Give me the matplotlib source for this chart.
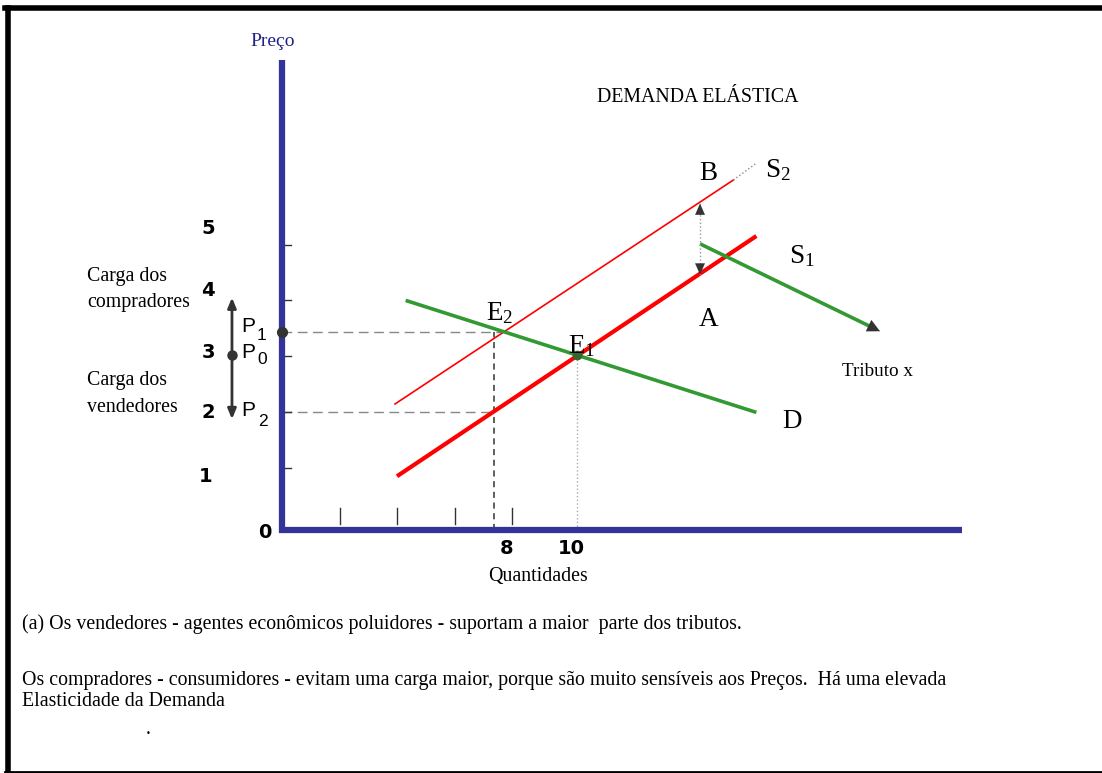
import matplotlib
matplotlib.use("Agg")
import matplotlib.pyplot as plt
from matplotlib.lines import Line2D

plt.rcParams['mathtext.fontset'] = 'custom'
plt.rcParams['mathtext.rm'] = 'Liberation Serif'
plt.rcParams['mathtext.it'] = 'Liberation Serif:italic'

# ---------------- data (quantity, price) ----------------
s1_q = [4.0, 16.5]
s1_p = [0.96, 5.25]
s2_q = [3.93, 15.7]
s2_p = [2.25, 6.25]
s2_tail_q = [15.7, 16.5]
s2_tail_p = [6.25, 6.55]
d_q = [4.3, 16.5]
d_p = [4.1, 2.1]
tax_q = [14.54, 20.8]
tax_p = [5.11, 3.55]
e1 = (10.26, 3.125)
e2 = (7.6, 3.54)
p1 = 3.54
p0 = 3.125
p2 = 2.107
q2 = 7.37
tax_gap_q = 14.54
tax_gap_top = 5.83
tax_gap_bot = 4.56
y_ticks = [1.11, 2.11, 3.1, 4.1, 5.09]
x_ticks = [2.02, 4.0, 6.02, 8.0]
price_labels = ['0', '1', '2', '3', '4', '5']
qty_labels = ['8', '10']

W, H = 1102, 773
X0, Y0, SX, SY = 282, 530, 28.75, 56.0

fig = plt.figure(figsize=(W / 100, H / 100), dpi=100)
ax = fig.add_axes([0, 0, 1, 1])
ax.set_xlim((0 - X0) / SX, (W - X0) / SX)
ax.set_ylim((Y0 - H) / SY, (Y0 - 0) / SY)
ax.axis('off')

def fp(x, y):
    return (x / W, 1 - y / H)

navy = '#333399'
red = '#ff0000'
green = '#339933'
dark = '#333333'

# border
fig.add_artist(Line2D([7.5 / W, 7.5 / W], [0, 1 - 7.5 / H], color='black', lw=4, transform=fig.transFigure))
fig.add_artist(Line2D([5 / W, 1], [1 - 7.5 / H, 1 - 7.5 / H], color='black', lw=4, transform=fig.transFigure))
fig.add_artist(Line2D([5 / W, 1], [1.5 / H, 1.5 / H], color='black', lw=2, transform=fig.transFigure))

# guide lines
ax.plot([0, e2[0]], [p1, p1], color='#888888', lw=1, ls=(0, (7, 4)))
ax.plot([0, q2], [p2, p2], color='#888888', lw=1, ls=(0, (7, 4)))
ax.plot([q2, q2], [0, p1], color='#333333', lw=1.1, ls=(0, (4, 3)))
ax.plot([e1[0], e1[0]], [0, e1[1]], color='#aaaaaa', lw=1, ls=':')

# ticks
for tk in y_ticks:
    ax.plot([0, 0.3], [tk, tk], color=dark, lw=1)
for tk in x_ticks:
    ax.plot([tk, tk], [0.11, 0.39], color=dark, lw=1)

# curves
ax.plot(s2_q, s2_p, color=red, lw=1.2)
ax.plot(s2_tail_q, s2_tail_p, color='#888888', lw=1, ls=':')
ax.plot(s1_q, s1_p, color=red, lw=3, solid_capstyle='butt')
ax.plot(d_q, d_p, color=green, lw=2.6, solid_capstyle='butt')
frac = 0.96
ax.plot([tax_q[0], tax_q[0] + frac * (tax_q[1] - tax_q[0])],
        [tax_p[0], tax_p[0] + frac * (tax_p[1] - tax_p[0])], color=green, lw=2.6, solid_capstyle='butt')
ax.annotate('', xy=(tax_q[1], tax_p[1]), xytext=(tax_q[1] - 0.3, tax_p[1] + 0.075),
            arrowprops=dict(arrowstyle='-|>,head_length=0.9,head_width=0.45', color=dark, lw=0.1,
                            shrinkA=0, shrinkB=0))

# tax gap double arrow
ax.plot([tax_gap_q, tax_gap_q], [tax_gap_bot, tax_gap_top], color='#999999', lw=1, ls=':')
for y_tip, y_from in [(tax_gap_top, tax_gap_top - 0.2), (tax_gap_bot, tax_gap_bot + 0.2)]:
    ax.annotate('', xy=(tax_gap_q, y_tip), xytext=(tax_gap_q, y_from),
                arrowprops=dict(arrowstyle='-|>,head_length=0.8,head_width=0.35', color=dark, lw=0.1,
                                shrinkA=0, shrinkB=0))

# left price arrow
ax.annotate('', xy=(-1.74, 4.15), xytext=(-1.74, p0),
            arrowprops=dict(arrowstyle='-|>,head_length=0.6,head_width=0.25', color=dark, lw=2,
                            shrinkA=0, shrinkB=0))
ax.annotate('', xy=(-1.74, 1.98), xytext=(-1.74, p0),
            arrowprops=dict(arrowstyle='-|>,head_length=0.6,head_width=0.25', color=dark, lw=2,
                            shrinkA=0, shrinkB=0))
ax.plot([-1.74], [p0], 'o', color=dark, ms=6.5)

# axes
ax.plot([0, 0], [-0.05, (Y0 - 60) / SY], color=navy, lw=4.5, solid_capstyle='butt')
ax.plot([-0.1, (962 - X0) / SX], [0, 0], color=navy, lw=4.5, solid_capstyle='butt')

# points
ax.plot([0], [p1], 'o', color=dark, ms=7, zorder=5)
ax.plot([e1[0]], [e1[1]], 'o', color='#336633', ms=6, zorder=5)

serif = 'Liberation Serif'
sans = 'Liberation Sans'

def t(x, y, s, size=14.3, ha='center', family=serif, color='black', weight='normal', dy=2):
    fig.text(*fp(x, y + dy), s, fontsize=size, ha=ha, va='center', family=family, color=color, weight=weight)

t(273, 40, 'Preço', 14, color='#22228a')
t(698, 95, 'DEMANDA ELÁSTICA', 14.3)
t(708, 172, 'B', 19.5)
t(765, 168, r'$\mathrm{S}_2$', 19.5, ha='left')
t(789, 254, r'$\mathrm{S}_1$', 19.5, ha='left')
t(709, 318, 'A', 19.5)
t(486, 311, r'$\mathrm{E}_2$', 19.5, ha='left')
t(568, 344, r'$\mathrm{E}_1$', 19.5, ha='left')
t(878, 370, 'Tributo x', 13.8)
t(792, 420, 'D', 19.5)

# price numbers
num_y = [533, 476, 412, 352, 290, 228]
num_x = [265, 206, 208, 208, 208, 208]
for lab, x, y in zip(price_labels, num_x, num_y):
    t(x, y, lab, 14, family='DejaVu Sans', weight='bold', dy=0)

t(87, 274, 'Carga dos', 14.3, ha='left')
t(87, 300, 'compradores', 14.3, ha='left')
t(87, 378, 'Carga dos', 14.3, ha='left')
t(87, 405, 'vendedores', 14.3, ha='left')

for (px_, py_), sub, (sx, sy) in [((241, 326), '1', (257, 336)),
                                  ((241, 352), '0', (257, 359)),
                                  ((241, 411), '2', (258, 421))]:
    t(px_, py_, 'P', 15, ha='left', family=sans, dy=0)
    t(sx, sy, sub, 12.5, ha='left', family=sans, dy=0)

t(507, 548, qty_labels[0], 14, family='DejaVu Sans', weight='bold', dy=0)
t(571, 548, qty_labels[1], 14, family='DejaVu Sans', weight='bold', dy=0)
t(538, 575, 'Quantidades', 14.3)

t(22, 622, '(a) Os vendedores - agentes econômicos poluidores - suportam a maior  parte dos tributos.', 14.3, ha='left')
t(22, 678, 'Os compradores - consumidores - evitam uma carga maior, porque são muito sensíveis aos Preços.  Há uma elevada', 14.3, ha='left')
t(22, 700, 'Elasticidade da Demanda', 14.3, ha='left')
t(148, 728, '.', 14.3)

fig.savefig('out.png', dpi=100)
